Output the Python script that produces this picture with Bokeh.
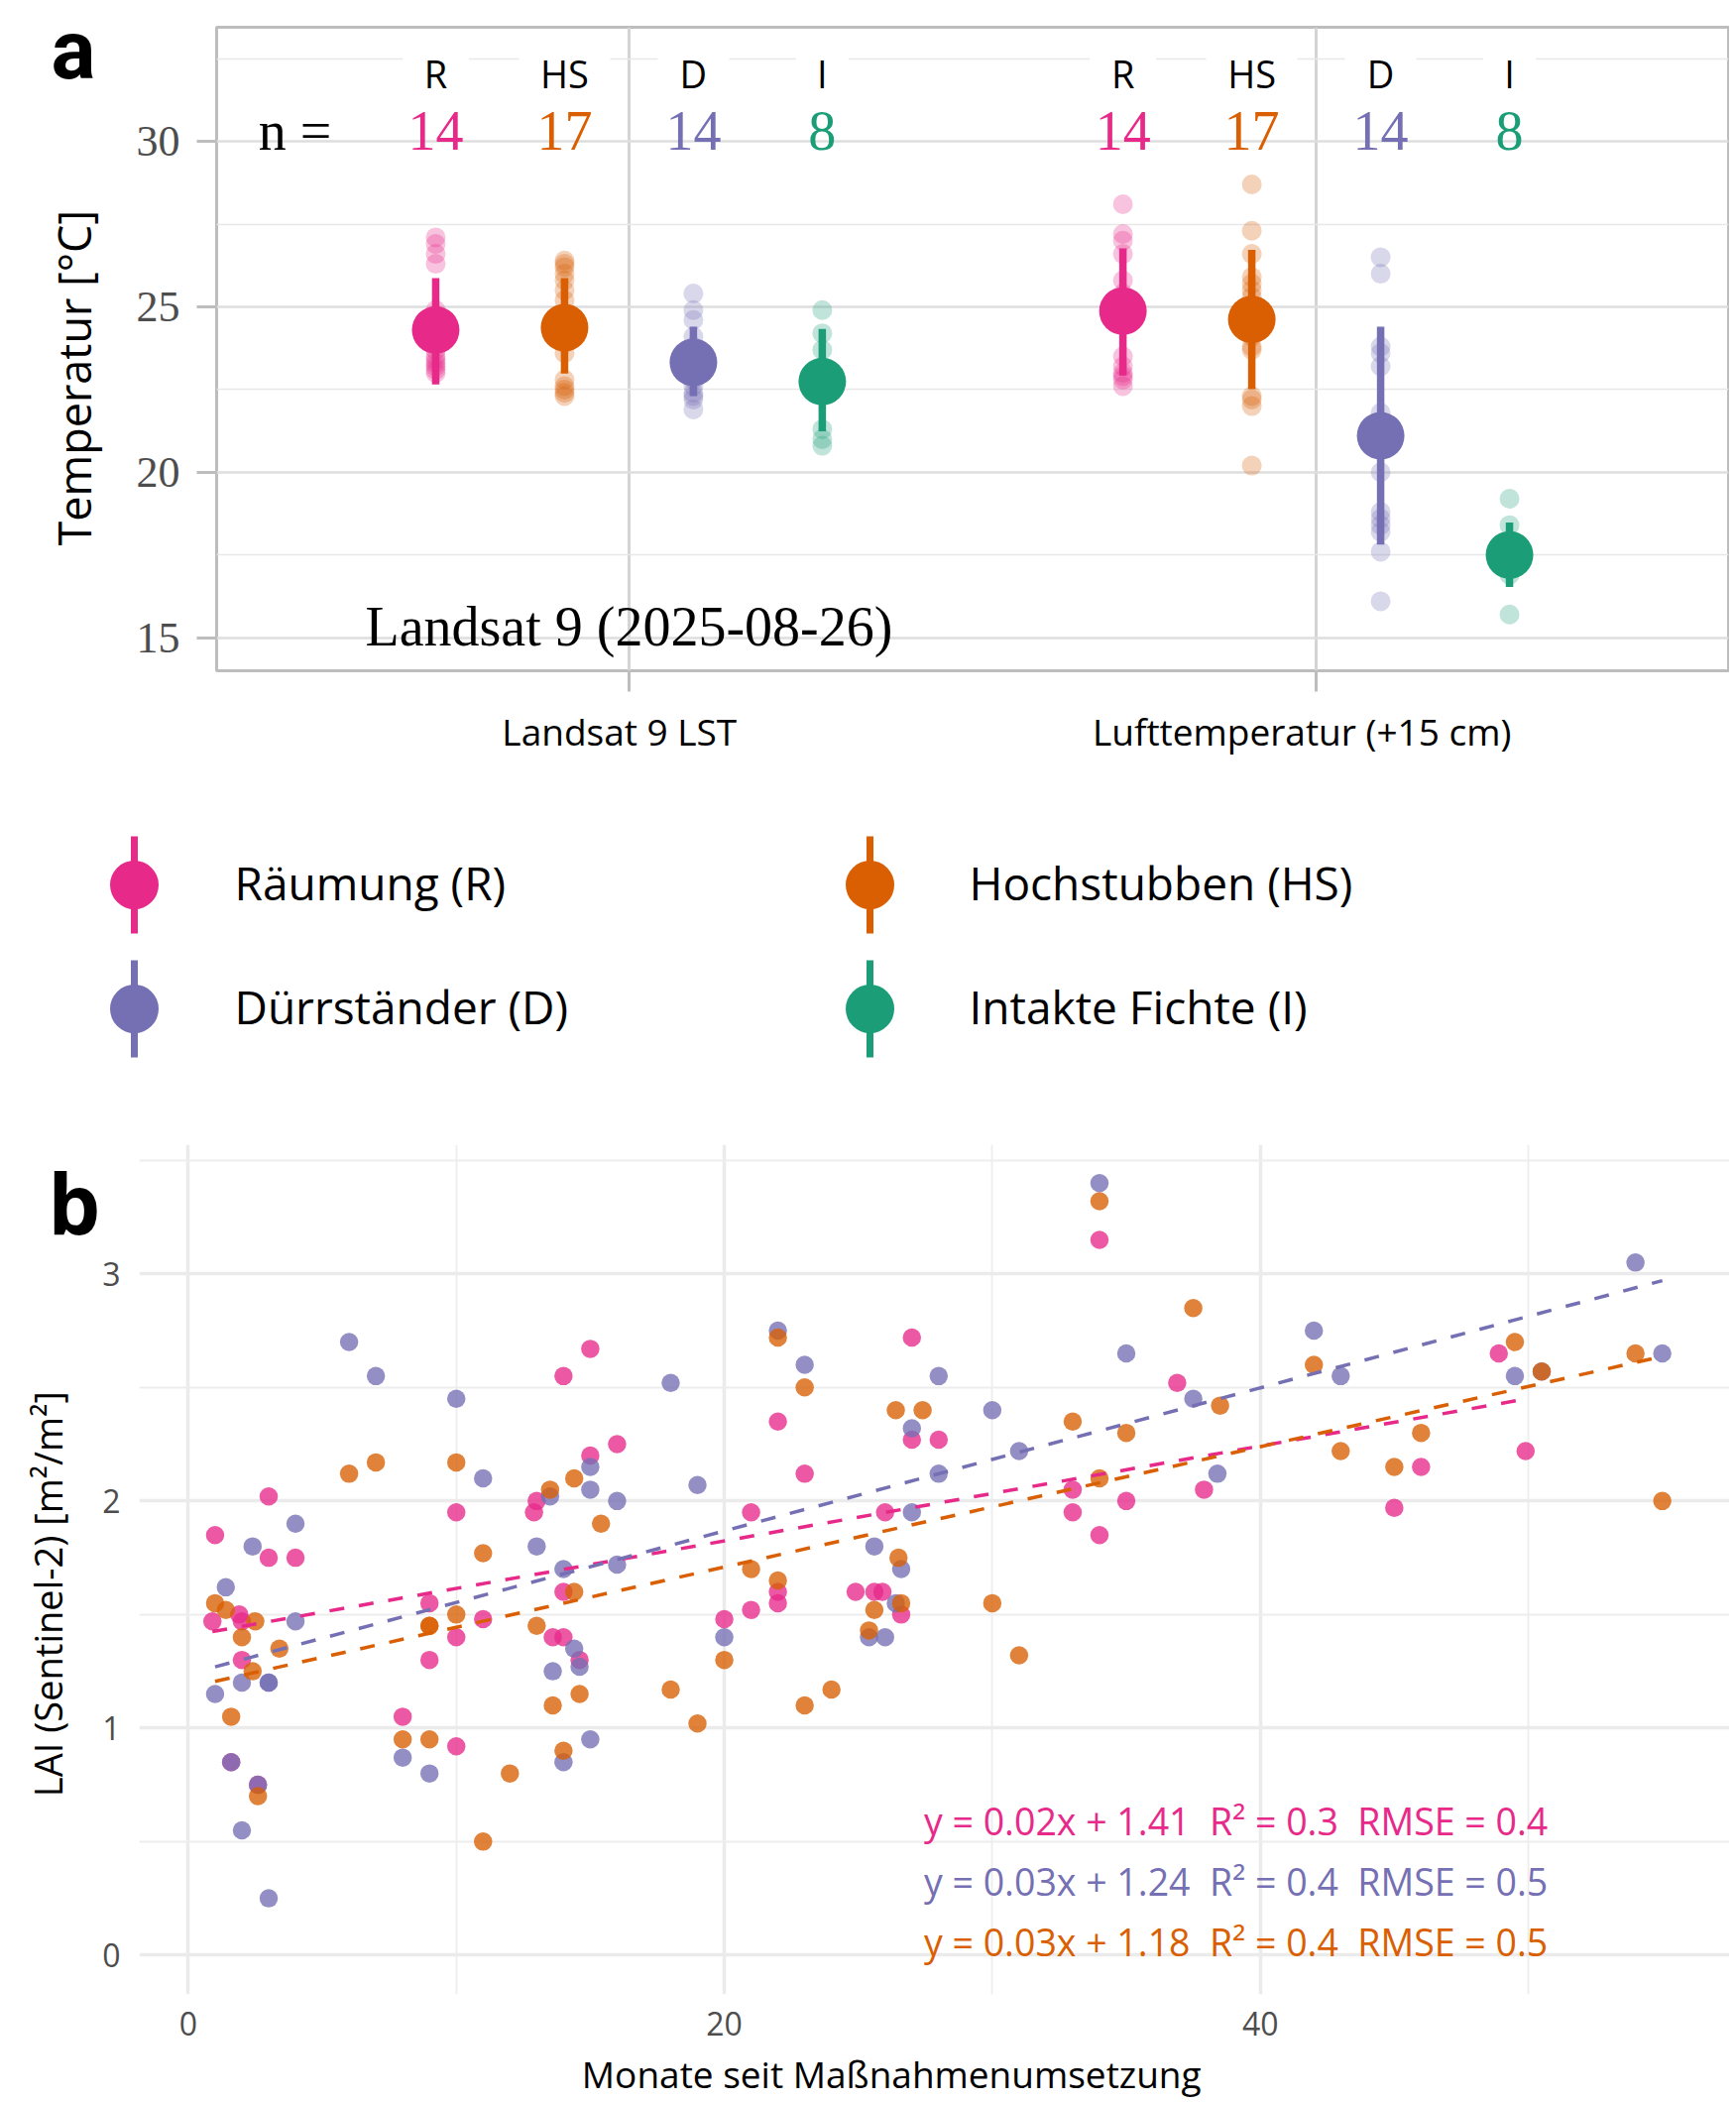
import numpy as np
from bokeh.plotting import figure
from bokeh.models import Range1d, FixedTicker, LinearAxis, Label
from bokeh.layouts import column
from bokeh.embed import file_html
from bokeh.resources import INLINE
from bokeh.core.properties import value

# ------------------------------------------------------------------ data (panel a)
groups = ["R", "HS", "D", "I"]
group_names = ["Räumung (R)", "Hochstubben (HS)", "Dürrständer (D)", "Intakte Fichte (I)"]
group_colors = ["#E7298A", "#D95F02", "#7570B3", "#1B9E77"]
categories = ["Landsat 9 LST", "Lufttemperatur (+15 cm)"]
scene_label = "Landsat 9 (2025-08-26)"

# Landsat 9 LST, single site values per treatment
lst_R = [27.1, 26.9, 26.6, 26.3, 24.9, 24.5, 24.1, 23.7, 23.5, 23.4, 23.3, 23.2, 23.1, 23.0]
lst_HS = [26.4, 26.3, 26.2, 26.0, 25.8, 25.5, 25.2, 24.8, 24.5, 24.2, 23.9, 23.6, 22.8, 22.6, 22.5, 22.4, 22.3]
lst_D = [25.4, 24.9, 24.6, 24.1, 23.8, 23.5, 23.3, 23.0, 22.8, 22.6, 22.4, 22.3, 22.2, 21.9]
lst_I = [24.9, 24.2, 23.7, 23.0, 22.5, 21.3, 21.0, 20.8]
lst_mean = [24.30, 24.37, 23.32, 22.74]
lst_lo = [22.65, 22.98, 22.30, 21.24]
lst_hi = [25.87, 25.87, 24.40, 24.33]

# Lufttemperatur (+15 cm)
air_R = [28.1, 27.2, 27.0, 26.6, 25.8, 25.4, 24.9, 24.5, 23.5, 23.2, 23.0, 22.9, 22.8, 22.6]
air_HS = [28.7, 27.3, 26.6, 25.9, 25.7, 25.5, 25.3, 25.0, 24.7, 24.4, 24.1, 23.8, 23.7, 22.3, 22.2, 22.0, 20.2]
air_D = [26.5, 26.0, 23.8, 23.6, 23.2, 21.8, 21.2, 20.0, 18.8, 18.6, 18.4, 18.2, 17.6, 16.1]
air_I = [19.2, 18.4, 17.9, 17.6, 17.4, 17.2, 16.9, 15.7]
air_mean = [24.87, 24.62, 21.10, 17.50]
air_lo = [22.92, 22.51, 17.81, 16.53]
air_hi = [26.77, 26.72, 24.40, 18.48]

temp_ticks = [15, 20, 25, 30]

# ------------------------------------------------------------------ data (panel b)
months_R = [0.9, 1.0, 1.9, 2.0, 2.0, 3.0, 3.0, 4.0, 8.0, 9.0, 9.0, 10.0, 10.0, 10.0, 11.0,
            13.0, 12.9, 13.6, 14.0, 14.0, 14.0, 14.6, 15.0, 15.0, 16.0, 20.0, 21.0, 21.0,
            22.0, 22.0, 22.0, 23.0, 24.9, 25.6, 25.9, 26.0, 26.6, 27.0, 27.0, 28.0, 33.0,
            33.0, 34.0, 34.0, 35.0, 36.9, 37.9, 45.0, 46.0, 48.9, 49.9, 1.6, 2.6]
lai_R = [1.47, 1.85, 1.50, 1.47, 1.30, 2.02, 1.75, 1.75, 1.05, 1.55, 1.30, 1.95, 1.40, 0.92, 1.48,
         2.00, 1.95, 1.40, 1.40, 2.55, 1.60, 1.30, 2.67, 2.20, 2.25, 1.48, 1.95, 1.52,
         2.35, 1.60, 1.55, 2.12, 1.60, 1.60, 1.60, 1.95, 1.50, 2.72, 2.27, 2.27, 2.05,
         1.95, 3.15, 1.85, 2.00, 2.52, 2.05, 1.97, 2.15, 2.65, 2.22, 0.85, 0.75]

months_D = [1.0, 1.4, 2.0, 2.0, 2.4, 1.6, 2.6, 3.0, 3.0, 3.0, 4.0, 4.0, 6.0, 7.0, 8.0, 9.0,
            10.0, 11.0, 13.0, 13.5, 13.6, 14.0, 14.0, 14.4, 14.6, 15.0, 15.0, 15.0, 16.0,
            16.0, 18.0, 19.0, 20.0, 22.0, 23.0, 25.4, 25.6, 26.0, 26.4, 26.6, 27.0, 27.0,
            28.0, 28.0, 30.0, 31.0, 34.0, 35.0, 37.5, 38.4, 42.0, 43.0, 49.5, 50.5, 54.0, 55.0]
lai_D = [1.15, 1.62, 1.20, 0.55, 1.80, 0.85, 0.75, 1.20, 1.20, 0.25, 1.90, 1.47, 2.70, 2.55, 0.87, 0.80,
         2.45, 2.10, 1.80, 2.02, 1.25, 1.70, 0.85, 1.35, 1.27, 2.15, 2.05, 0.95, 2.00,
         1.72, 2.52, 2.07, 1.40, 2.75, 2.60, 1.40, 1.80, 1.40, 1.55, 1.70, 2.32, 1.95,
         2.55, 2.12, 2.40, 2.22, 3.40, 2.65, 2.45, 2.12, 2.75, 2.55, 2.55, 2.57, 3.05, 2.65]

months_HS = [1.0, 1.4, 1.6, 2.0, 2.4, 2.5, 2.6, 3.4, 6.0, 7.0, 8.0, 9.0, 9.0, 9.0, 10.0, 10.0,
             11.0, 11.0, 12.0, 13.0, 13.5, 13.6, 14.0, 14.4, 14.4, 14.6, 15.4, 18.0, 19.0,
             20.0, 21.0, 22.0, 22.0, 23.0, 23.0, 24.0, 25.4, 25.6, 26.4, 26.5, 26.6, 27.4,
             30.0, 31.0, 33.0, 34.0, 34.0, 35.0, 37.5, 38.5, 42.0, 43.0, 45.0, 46.0, 49.5,
             50.5, 54.0, 55.0]
lai_HS = [1.55, 1.52, 1.05, 1.40, 1.25, 1.47, 0.70, 1.35, 2.12, 2.17, 0.95, 0.95, 1.45, 1.45, 2.17, 1.50,
          1.77, 0.50, 0.80, 1.45, 2.05, 1.10, 0.90, 2.10, 1.60, 1.15, 1.90, 1.17, 1.02,
          1.30, 1.70, 2.72, 1.65, 2.50, 1.10, 1.17, 1.43, 1.52, 2.40, 1.75, 1.55, 2.40,
          1.55, 1.32, 2.35, 3.32, 2.10, 2.30, 2.85, 2.42, 2.60, 2.22, 2.15, 2.30, 2.70,
          2.57, 2.65, 2.00]

# linear fits as printed / (R, HS, D)
fit_slope = [0.0209, 0.0265, 0.0315]
fit_intercept = [1.406, 1.179, 1.238]
fit_labels = ["y = 0.02x + 1.41 \u00a0R\u00b2 = 0.3 \u00a0RMSE = 0.4",
              "y = 0.03x + 1.18 \u00a0R\u00b2 = 0.4 \u00a0RMSE = 0.5",
              "y = 0.03x + 1.24 \u00a0R\u00b2 = 0.4 \u00a0RMSE = 0.5"]
month_ticks = [0, 20, 40]
lai_ticks = [0, 1, 2, 3]

# ------------------------------------------------------------------ style / layout
W = 1744
OPEN = "Open Sans"
SERIF = "Liberation Serif"
NB = "\u00a0"
dodge_offsets = [-0.28125, -0.09375, 0.09375, 0.28125]
label_box_w = [67, 92, 72, 53]
cat_label_pad = [2, 3]          # trailing no-break spaces to nudge label centres

A_H, A_LEFT, A_RIGHT, A_TOP, A_BOTTOM = 778, 218, 1, 27, 102
A_X = (0.4, 2.6)
A_Y = (14.0, 33.45)

# ------------------------------------------------------------------ panel a
pa = figure(width=W, height=A_H, x_range=Range1d(*A_X), y_range=Range1d(*A_Y),
            output_backend="svg", toolbar_location=None, frame_align=False,
            min_border_left=A_LEFT, min_border_right=A_RIGHT,
            min_border_top=A_TOP, min_border_bottom=A_BOTTOM)
pa.outline_line_color = "#BDBDBD"
pa.outline_line_width = 3
pa.yaxis.ticker = FixedTicker(ticks=temp_ticks, minor_ticks=[t + 2.5 for t in temp_ticks])
pa.xaxis.ticker = FixedTicker(ticks=[1, 2])
pa.xaxis.major_label_overrides = {i + 1: c + NB * cat_label_pad[i] for i, c in enumerate(categories)}
pa.ygrid.grid_line_color = "#DEDEDE"
pa.ygrid.grid_line_width = 2.5
pa.ygrid.minor_grid_line_color = "#E8E8E8"
pa.ygrid.minor_grid_line_width = 1.6
pa.xgrid.grid_line_color = "#D4D4D4"
pa.xgrid.grid_line_width = 3
for ax in (pa.xaxis, pa.yaxis):
    ax.axis_line_color = None
    ax.minor_tick_line_color = None
    ax.major_tick_line_color = "#BDBDBD"
    ax.major_tick_line_width = 3
    ax.major_tick_in = 0
pa.yaxis.major_tick_out = 20
pa.xaxis.major_tick_out = 21
pa.yaxis.major_label_text_font = SERIF
pa.yaxis.major_label_text_font_size = "44px"
pa.yaxis.major_label_text_color = "#4D4D4D"
pa.yaxis.major_label_standoff = 17
pa.xaxis.major_label_text_font = OPEN
pa.xaxis.major_label_text_font_size = "37px"
pa.xaxis.major_label_text_color = "black"
pa.xaxis.major_label_standoff = 14

cat_points = [[lst_R, lst_HS, lst_D, lst_I], [air_R, air_HS, air_D, air_I]]
cat_stats = [(lst_mean, lst_lo, lst_hi), (air_mean, air_lo, air_hi)]

px, py, pc = [], [], []
sx, smean, slo, shi, sc = [], [], [], [], []
for ci, (pts_list, (mn, lo, hi)) in enumerate(zip(cat_points, cat_stats)):
    for gi, pts in enumerate(pts_list):
        xpos = ci + 1 + dodge_offsets[gi]
        px += [xpos] * len(pts)
        py += pts
        pc += [group_colors[gi]] * len(pts)
        sx.append(xpos)
        smean.append(mn[gi])
        slo.append(lo[gi])
        shi.append(hi[gi])
        sc.append(group_colors[gi])

pa.scatter(x=px, y=py, size=20, fill_color=pc, fill_alpha=0.28, line_color=None)
pa.segment(x0=sx, y0=slo, x1=sx, y1=shi, line_color=sc, line_width=7.5)
pa.scatter(x=sx, y=smean, size=48, fill_color=sc, line_color=None)

# group letter labels (with white boxes) and sample sizes
lab_x, lab_t, lab_w, n_t, n_c = [], [], [], [], []
for ci, pts_list in enumerate(cat_points):
    for gi, pts in enumerate(pts_list):
        lab_x.append(ci + 1 + dodge_offsets[gi])
        lab_t.append(groups[gi])
        lab_w.append(label_box_w[gi])
        n_t.append(str(len(pts)))
        n_c.append(group_colors[gi])

LAB_Y, N_Y = 32.07, 30.32
pa.rect(x=lab_x, y=[LAB_Y] * len(lab_x), width=lab_w, height=40,
        width_units="screen", height_units="screen", fill_color="white", line_color=None)
pa.text(x=lab_x, y=[LAB_Y] * len(lab_x), text=lab_t, text_font=value(OPEN),
        text_font_size=value("38px"), text_color="black", text_align="center",
        text_baseline="alphabetic")
pa.text(x=lab_x, y=[N_Y] * len(lab_x), text=n_t, text_font=value(SERIF),
        text_font_size=value("56px"), text_color=n_c, text_align="center",
        text_baseline="alphabetic")
pa.text(x=[0.514], y=[N_Y], text=["n ="], text_font=value(SERIF),
        text_font_size=value("56px"), text_color="black", text_align="center",
        text_baseline="alphabetic")
pa.text(x=[1], y=[15.32], text=[scene_label], text_font=value(SERIF),
        text_font_size=value("56px"), text_color="black", text_align="center",
        text_baseline="alphabetic")

# left side panels: [tick axis] [panel tag "a"] [axis title]
a_xpp = (A_X[1] - A_X[0]) / (W - A_LEFT - A_RIGHT)
a_ypp = (A_Y[1] - A_Y[0]) / (A_H - A_TOP - A_BOTTOM)
tag_a = Label(x=A_X[0] - (A_LEFT - 51) * a_xpp, y=A_Y[1] - (50 - A_TOP) * a_ypp,
              text="a", text_font="Roboto", text_font_size="84px", text_font_style="bold",
              text_color="black", text_align="left", text_baseline="middle")
pa.add_layout(tag_a, "left")

title_axis = LinearAxis(ticker=FixedTicker(ticks=[]), axis_line_color=None,
                        major_tick_line_color=None, minor_tick_line_color=None,
                        major_tick_out=0, major_tick_in=0, major_label_standoff=0,
                        axis_label="Temperatur [°C]" + NB * 5, axis_label_standoff=-15,
                        axis_label_text_font=OPEN, axis_label_text_font_size="45px",
                        axis_label_text_font_style="normal", axis_label_text_color="black")
pa.add_layout(title_axis, "left")

# ------------------------------------------------------------------ legend
L_H = 300
pl = figure(width=W, height=L_H, x_range=Range1d(0, W), y_range=Range1d(L_H, 0),
            output_backend="svg", toolbar_location=None, x_axis_type=None, y_axis_type=None,
            frame_align=False,
            min_border_left=0, min_border_right=0, min_border_top=0, min_border_bottom=0)
pl.outline_line_color = None
pl.grid.visible = False
col_key_x = [135, 877]
col_text_x = [236, 977]
row_y = [114, 239]
kx, ky, ktx, kty = [], [], [], []
for i in range(len(groups)):
    r, c = divmod(i, 2)
    kx.append(col_key_x[c])
    ky.append(row_y[r])
    ktx.append(col_text_x[c])
    kty.append(row_y[r] - 3)
pl.segment(x0=kx, y0=[y - 49 for y in ky], x1=kx, y1=[y + 49 for y in ky],
           line_color=group_colors, line_width=7)
pl.scatter(x=kx, y=ky, size=49, fill_color=group_colors, line_color=None)
pl.text(x=ktx, y=kty, text=group_names, text_font=value(OPEN), text_font_size=value("46px"),
        text_color="black", text_align="left", text_baseline="alphabetic")

# ------------------------------------------------------------------ panel b
B_H, B_LEFT, B_RIGHT, B_TOP, B_BOTTOM = 1042, 140, 0, 76, 109
B_X = (-1.828, 57.51)
B_Y = (-0.173, 3.569)
pb = figure(width=W, height=B_H, x_range=Range1d(*B_X), y_range=Range1d(*B_Y),
            output_backend="svg", toolbar_location=None, frame_align=False,
            min_border_left=B_LEFT, min_border_right=B_RIGHT,
            min_border_top=B_TOP, min_border_bottom=B_BOTTOM)
pb.outline_line_color = None
pb.xaxis.ticker = FixedTicker(ticks=month_ticks, minor_ticks=[t + 10 for t in month_ticks])
pb.yaxis.ticker = FixedTicker(ticks=lai_ticks, minor_ticks=[t + 0.5 for t in lai_ticks])
for g in (pb.xgrid, pb.ygrid):
    g.grid_line_color = "#EBEBEB"
    g.grid_line_width = 3.5
    g.minor_grid_line_color = "#EDEDED"
    g.minor_grid_line_width = 1.8
for ax in (pb.xaxis, pb.yaxis):
    ax.axis_line_color = None
    ax.major_tick_line_color = None
    ax.minor_tick_line_color = None
    ax.major_tick_out = 0
    ax.major_tick_in = 0
    ax.major_label_text_font = OPEN
    ax.major_label_text_font_size = "32px"
    ax.major_label_text_color = "#4D4D4D"
    ax.axis_label_text_font = OPEN
    ax.axis_label_text_font_style = "normal"
    ax.axis_label_text_color = "black"
pb.xaxis.axis_label_text_font_size = "37px"
pb.yaxis.axis_label_text_font_size = "38px"
pb.xaxis.major_label_standoff = 13
pb.yaxis.major_label_standoff = 15
pb.xaxis.axis_label = "Monate seit Maßnahmenumsetzung" + NB * 9
pb.yaxis.axis_label = "LAI (Sentinel-2) [m\u00b2/m\u00b2]" + NB * 5
pb.xaxis.axis_label_standoff = 10
pb.yaxis.axis_label_standoff = 26

col_R, col_HS, col_D = group_colors[0], group_colors[1], group_colors[2]
bx = months_R + months_D + months_HS
by = lai_R + lai_D + lai_HS
bc = [col_R] * len(months_R) + [col_D] * len(months_D) + [col_HS] * len(months_HS)
pb.scatter(x=bx, y=by, size=18.5, fill_color=bc, fill_alpha=0.78, line_color=None)

fit_groups = [(months_R, col_R), (months_HS, col_HS), (months_D, col_D)]
for (mx, colr), k, d in zip(fit_groups, fit_slope, fit_intercept):
    xs = np.array([min(mx), max(mx)])
    pb.line(x=xs, y=d + k * xs, line_color=colr, line_width=3.5, line_dash="15 15")

eq_colors = [col_R, col_D, col_HS]
eq_text = [fit_labels[0], fit_labels[2], fit_labels[1]]
pb.text(x=[27.45] * 3, y=[0.59, 0.325, 0.059], text=eq_text, text_color=eq_colors,
        text_font=value(OPEN), text_font_size=value("37.5px"), text_align="left",
        text_baseline="alphabetic")

b_ypp = (B_Y[1] - B_Y[0]) / (B_H - B_TOP - B_BOTTOM)
tag_b_y = round(B_Y[1] - (1212 - 1078 - B_TOP) * b_ypp, 4)
tag_b = LinearAxis(ticker=FixedTicker(ticks=[tag_b_y]), major_label_overrides={tag_b_y: "b"},
                   axis_line_color=None, major_tick_line_color=None, minor_tick_line_color=None,
                   major_tick_out=0, major_tick_in=0, major_label_standoff=-82,
                   major_label_text_font=OPEN, major_label_text_font_size="84px",
                   major_label_text_font_style="bold", major_label_text_color="black")
pb.add_layout(tag_b, "left")

layout = column(pa, pl, pb, spacing=0)
open("out.html", "w").write(file_html(layout, INLINE))
